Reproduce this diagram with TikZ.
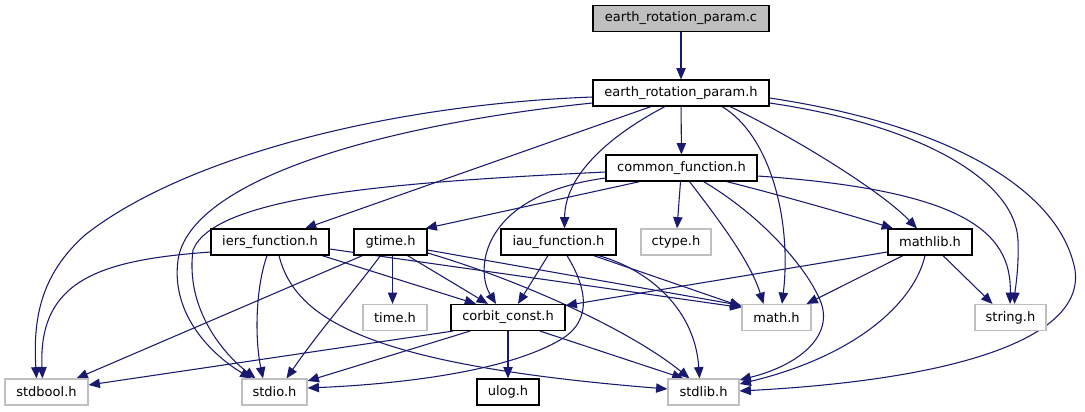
\documentclass[tikz,border=0pt]{standalone}
\usepackage{fontspec}
\setmainfont{DejaVu Sans}
\usetikzlibrary{arrows.meta,calc,backgrounds}
\definecolor{edgeblue}{HTML}{191970}
\definecolor{sysgray}{HTML}{BFBFBF}
\begin{document}
\begin{tikzpicture}[x=0.75pt,y=-0.75pt,
  box/.style={draw=black,line width=0.85pt,fill=white,inner sep=0pt,minimum height=19.5pt,font=\fontsize{9.75pt}{11pt}\selectfont},
  sysbox/.style={box,draw=sysgray},
  rootbox/.style={box,fill=sysgray},
  edge/.style={draw=edgeblue,line width=0.8pt,-{Triangle[length=8.5pt,width=7pt]}}]
\useasboundingbox (0,0) rectangle (1085,411);
% nodes
\node[rootbox,minimum width=132pt] (c) at (681,18.5) {earth\_rotation\_param.c};
\node[box,minimum width=132pt] (erp) at (681,93) {earth\_rotation\_param.h};
\node[box,minimum width=113.25pt] (cf) at (681.5,168) {common\_function.h};
\node[box,minimum width=88.5pt] (iers) at (270,242) {iers\_function.h};
\node[box,minimum width=54.75pt] (gtime) at (390.5,242) {gtime.h};
\node[box,minimum width=86.25pt] (iau) at (558.5,242) {iau\_function.h};
\node[sysbox,minimum width=52.5pt] (ctype) at (676,242) {ctype.h};
\node[box,minimum width=63pt] (mathlib) at (930,242) {mathlib.h};
\node[sysbox,minimum width=48pt] (time) at (395,317.5) {time.h};
\node[box,minimum width=85.5pt] (corbit) at (508,317.5) {corbit\_const.h};
\node[sysbox,minimum width=51.75pt] (math) at (776.5,317.5) {math.h};
\node[sysbox,minimum width=53.25pt] (string) at (1010.5,317.5) {string.h};
\node[sysbox,minimum width=62.25pt] (stdbool) at (46.5,392) {stdbool.h};
\node[sysbox,minimum width=48.75pt] (stdio) at (274.5,392) {stdio.h};
\node[box,minimum width=46.5pt] (ulog) at (508,392) {ulog.h};
\node[sysbox,minimum width=53.25pt] (stdlib) at (703.5,392) {stdlib.h};
\begin{scope}[on background layer]
% earth_rotation_param.c
\draw[edge] (c) -- (erp);
% earth_rotation_param.h
\draw[edge] (erp) -- (cf);
\draw[edge] ($(erp.south)+(-30,0)$) -- ($(iers.north)+(35,0)$);
\draw[edge] ($(erp.south)+(-16,0)$) .. controls (620,130) and (565,170) .. ($(iau.north)+(6,0)$);
\draw[edge] ($(erp.south)+(49,0)$) .. controls (790,135) and (880,190) .. ($(mathlib.north)+(-13,0)$);
\draw[edge] ($(erp.south)+(41,0)$) .. controls (770,135) and (792,220) .. ($(math.north)+(5.5,0)$);
\draw[edge] ($(erp.east)+(0,10)$) .. controls (920,125) and (1015,180) .. (1018,240) .. controls (1019,270) and (1015,290) .. ($(string.north)+(4,0)$);
\draw[edge] ($(erp.east)+(0,5)$) .. controls (950,125) and (1060,190) .. (1075,270) .. controls (1085,340) and (950,380) .. ($(stdlib.east)+(0,-1)$);
\draw[edge] ($(erp.west)+(0,10)$) .. controls (380,125) and (190,180) .. (178,260) .. controls (170,320) and (220,360) .. ($(stdio.north)+(-23,0)$);
\draw[edge] ($(erp.west)+(0,4)$) .. controls (380,105) and (180,160) .. (85,235) .. controls (40,275) and (33,320) .. ($(stdbool.north)+(-10,0)$);
% common_function.h
\draw[edge] ($(cf.south)+(-41.5,0)$) -- ($(gtime.north east)+(-2,0)$);
\draw[edge] ($(cf.south)+(-1,0)$) -- ($(ctype.north)+(1,0)$);
\draw[edge] ($(cf.south)+(45,0)$) .. controls (780,195) and (850,215) .. ($(mathlib.north)+(-37,0)$);
\draw[edge] ($(cf.east)+(0,8)$) .. controls (960,190) and (1012,230) .. ($(string.north)+(-0.5,0)$);
\draw[edge] ($(cf.south)+(8,0)$) .. controls (715,215) and (750,260) .. ($(math.north)+(-13,0)$);
\draw[edge] ($(cf.south)+(22,0)$) .. controls (760,215) and (805,265) .. (820,300) .. controls (835,335) and (800,365) .. ($(stdlib.east)+(0,-12)$);
\draw[edge] ($(cf.west)+(0,10)$) .. controls (480,195) and (475,270) .. ($(corbit.north)+(-12,0)$);
\draw[edge] ($(cf.west)+(0,4)$) .. controls (400,182) and (215,195) .. (193,250) .. controls (185,310) and (225,355) .. ($(stdio.north)+(-19,0)$);
% iers_function.h
\draw[edge] ($(iers.west)+(0,10)$) .. controls (100,260) and (38,280) .. ($(stdbool.north)+(-4,0)$);
\draw[edge] ($(iers.south)+(-3,0)$) .. controls (255,290) and (255,340) .. ($(stdio.north)+(-11.5,0)$);
\draw[edge] ($(iers.south)+(52,0)$) -- ($(corbit.north)+(-32,0)$);
\draw[edge] ($(iers.east)+(0,7)$) -- ($(math.west)+(0,-10)$);
\draw[edge] ($(iers.south)+(9,0)$) .. controls (295,320) and (370,365) .. ($(stdlib.west)+(0,-3)$);
% gtime.h
\draw[edge] ($(gtime.south)+(2,0)$) -- ($(time.north)+(-2.5,0)$);
\draw[edge] ($(gtime.south)+(17,0)$) -- ($(corbit.north)+(-20,0)$);
\draw[edge] ($(gtime.south)+(-28,0)$) -- ($(stdbool.north)+(30,0)$);
\draw[edge] ($(gtime.south)+(-10,0)$) .. controls (355,290) and (320,330) .. ($(stdio.north)+(12,0)$);
\draw[edge] ($(gtime.east)+(0,8)$) -- ($(math.west)+(0,-12)$);
\draw[edge] ($(gtime.east)+(0,11)$) .. controls (520,280) and (630,330) .. ($(stdlib.north)+(-14,0)$);
% iau_function.h
\draw[edge] ($(iau.south)+(-10.5,0)$) -- ($(corbit.north)+(10,0)$);
\draw[edge] ($(iau.south)+(35,0)$) -- ($(math.west)+(0,-11)$);
\draw[edge] ($(iau.south)+(8.5,0)$) .. controls (585,285) and (595,320) .. (560,340) .. controls (500,375) and (380,385) .. ($(stdio.east)+(0,-4)$);
\draw[edge] ($(iau.south)+(40,0)$) .. controls (650,270) and (695,310) .. ($(stdlib.north)+(-4,0)$);
% mathlib.h
\draw[edge] ($(mathlib.west)+(0,10)$) -- ($(corbit.east)+(0,-12)$);
\draw[edge] ($(mathlib.south)+(-27,0)$) -- ($(math.north)+(30,0)$);
\draw[edge] ($(mathlib.south)+(-5,0)$) .. controls (915,300) and (860,355) .. ($(stdlib.east)+(0,-8)$);
\draw[edge] ($(mathlib.south)+(13,0)$) -- ($(string.north)+(-18,0)$);
% corbit_const.h
\draw[edge] (corbit) -- (ulog);
\draw[edge] ($(corbit.south)+(-55,0)$) -- ($(stdbool.east)+(0,-7)$);
\draw[edge] ($(corbit.south)+(-38,0)$) -- ($(stdio.east)+(0,-11)$);
\draw[edge] ($(corbit.south)+(32,0)$) -- ($(stdlib.north)+(-20,0)$);
\end{scope}
\end{tikzpicture}
\end{document}
